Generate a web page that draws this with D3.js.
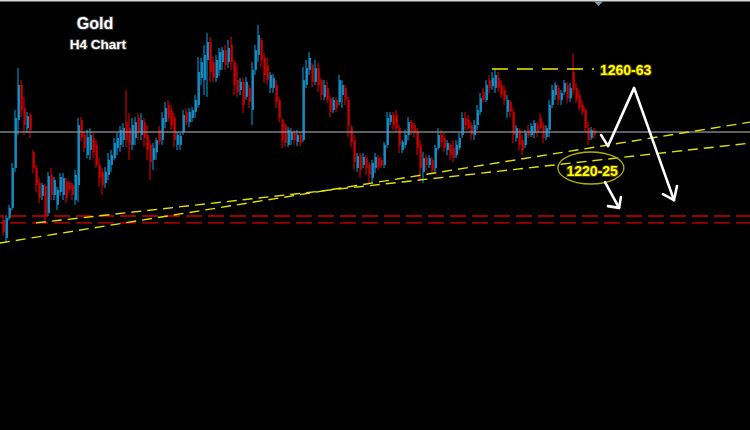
<!DOCTYPE html>
<html>
<head>
<meta charset="utf-8">
<script src="https://cdn.jsdelivr.net/npm/d3@7"></script>
<style>
html,body{margin:0;padding:0;background:#000;}
svg{display:block;}
</style>
</head>
<body>
<svg id="chart" width="750" height="430"></svg>
<script>
// ---- Data (H4 gold candles) ----
const opens = [1209.7,1203.7,1210.3,1213.7,1227,1243,1254.7,1247,1240.3,1244.7,1232.3,1227,1222,1217.7,1221,1212,1224.7,1218,1214.7,1219,1218,1222.3,1222,1221.3,1216.3,1221.3,1243,1238,1231.3,1233,1237,1234.7,1228,1225.7,1222,1224.7,1228,1230.3,1233.7,1234.7,1236.3,1242.3,1240.3,1234.7,1237,1243.7,1238,1242.3,1238,1234.7,1229.7,1232.3,1239.7,1236.3,1242.3,1248,1246.3,1243.7,1234.7,1234.7,1239,1245.7,1242.3,1243.7,1245.7,1248,1257,1256.3,1263,1269,1262.3,1257,1259.7,1262.3,1266.3,1262.3,1268,1262.3,1256.3,1253,1255.7,1250.7,1253.7,1246.3,1259.7,1264.7,1269.7,1263.7,1261.3,1253.7,1253.7,1254.7,1249.7,1243,1241.3,1234.7,1236.3,1238.7,1235.7,1238,1236.3,1254.7,1259.7,1261.3,1255.7,1260.3,1256.3,1250.7,1253.7,1250.3,1246.3,1249.7,1249,1251.3,1253.7,1249.7,1240.7,1236.3,1227,1231.3,1228,1230.3,1228,1223.7,1227,1230.3,1229.7,1228,1234.7,1242.3,1244.7,1244.7,1240.3,1233,1234.7,1238,1242.3,1241.3,1239,1234.7,1225.7,1230.3,1228,1229.7,1227,1233.7,1238,1237,1233,1234.7,1233.7,1231.3,1233.7,1238,1243.7,1243,1241.3,1238,1241.3,1245.7,1252.3,1249.7,1256.3,1254.3,1253.7,1257,1254.7,1253,1245.7,1249,1245.7,1237,1239.7,1236.3,1234.7,1239.7,1238,1238.7,1241.3,1243.7,1241.3,1237.3,1239.7,1248,1251.3,1253.7,1249.7,1252.3,1254.7,1250.3,1259,1253.7,1251.3,1248,1246.3,1240.3,1237,1239.7];
const highs = [1210.7,1211.3,1214.7,1228.7,1246.3,1260.3,1256.3,1250.7,1245.7,1245.3,1233,1228,1223.7,1222,1221.7,1225.7,1227,1224,1220.7,1225.3,1225.3,1223.7,1222.7,1222,1226.3,1243.7,1244,1239,1239.7,1240.3,1238.7,1236.3,1230.3,1227,1227.3,1232,1233,1237,1238.7,1241,1242,1253,1245.3,1243.7,1244,1245.3,1245.3,1243.7,1241.3,1236.3,1235.3,1237,1241,1245.7,1249,1249.7,1248,1245.3,1239,1238.7,1246.3,1247,1247,1247.3,1251.3,1264,1263.7,1268,1272,1270.7,1264,1264.7,1267,1267.3,1268,1269.7,1270.7,1263,1261.3,1257,1257,1257.3,1254.7,1262.3,1268,1274.7,1270.3,1265.3,1263.7,1259,1258.3,1256.3,1250.7,1243.7,1242,1240.7,1240.3,1239.7,1239.7,1239,1260.7,1263,1265.7,1262,1263,1262,1257,1256.3,1255.7,1251.3,1250.7,1250.7,1258,1256.3,1254.7,1250.7,1241.3,1238,1232,1232,1232,1231.3,1229,1229.7,1232,1231.3,1230.7,1235.7,1245.7,1245.7,1245.7,1246.3,1241.3,1236.3,1239.7,1244,1243,1242,1240.3,1236.3,1232.3,1231.3,1231.3,1230.7,1234.7,1240.3,1239.7,1238.7,1236.3,1235.3,1236.3,1236.3,1238.7,1245.7,1245.7,1244.7,1242.3,1243,1248,1252,1253.7,1256.3,1258,1259,1259.7,1259,1256.3,1254.7,1251.3,1249.7,1247,1241.3,1240.3,1238,1239.7,1241.3,1242,1243,1242.3,1245.3,1242.3,1241.3,1249.7,1254.7,1255.7,1254.7,1253,1256.3,1255.7,1255.3,1265.3,1255.3,1253,1249.7,1247.3,1242.3,1240.7,1240.3];
const lows = [1204.3,1202,1209.7,1213,1225.7,1238,1244,1238,1238.7,1237,1225.3,1219,1215.3,1216.3,1208.3,1211,1216.3,1216.3,1213,1217.7,1216.3,1215.3,1218.7,1216.3,1214.7,1215.7,1235.7,1232.3,1230.3,1229.7,1230.3,1227,1220.7,1218,1220.3,1223,1225.7,1229.7,1231.3,1232.3,1234,1234,1229.7,1233,1234.7,1236.3,1236.3,1234,1229.7,1223,1226.3,1229.7,1234.7,1234.7,1240.3,1242.3,1239.7,1234,1233,1233,1238,1241.3,1240.7,1242.3,1243.7,1247,1254.7,1251.3,1250.7,1255.7,1255.7,1255.7,1257.7,1259.7,1259.7,1260.3,1259.7,1251.3,1250.7,1251.3,1245.3,1249.7,1247,1241.3,1258,1262.3,1260.7,1255.3,1254.7,1252,1252,1247,1242.3,1233.7,1234,1234,1234.7,1234.7,1234.3,1234.3,1235.7,1253.7,1258,1254,1254.7,1252.3,1249.7,1249.7,1248.7,1244,1245.3,1245.7,1248,1247,1248,1237.3,1234,1226.3,1225.7,1223.7,1227,1224.7,1222,1222,1225.3,1226.3,1227,1227,1233.7,1241.3,1239.7,1239,1232,1232,1233.7,1236.3,1238,1237.3,1231.3,1223,1222,1226.3,1227,1225.3,1225.7,1233,1234,1232.3,1231.3,1229.7,1229,1230.3,1233,1237,1239.7,1239.7,1236.3,1236.3,1239.7,1244.7,1248.7,1249,1252,1253,1252,1252.3,1250.3,1248,1243.7,1244,1235.3,1235.7,1233,1231.3,1233.7,1237,1237.3,1237,1237.3,1239.7,1235.3,1236.3,1237.3,1247,1249.7,1248,1248,1251.3,1248.7,1249,1251.3,1248.7,1246.3,1244.7,1239,1234.7,1236.3,1237];
const closes = [1205.7,1210.3,1213.7,1227,1243.7,1254.7,1246.3,1241.3,1244.3,1239.7,1227,1221.3,1217,1221.3,1211,1224.3,1218,1223,1219.7,1224,1223.7,1217,1219.7,1218,1224.7,1241.3,1237,1233.7,1237.3,1238,1232.3,1228,1223.7,1221.3,1225.7,1229.7,1231.3,1235.3,1237,1239.7,1240.3,1236.3,1234.7,1241.3,1242.3,1239,1243,1237,1233,1229,1233.7,1236.3,1235.7,1243.7,1247,1243.7,1241.3,1236.3,1238,1237.7,1244.7,1242.3,1245.7,1246.3,1249.7,1259,1262.3,1264.7,1269,1259,1257,1263,1265.7,1266.3,1261.3,1267,1262.3,1254.7,1252.3,1255.7,1248,1255.7,1249,1259.7,1266.3,1271.3,1263,1258,1256.3,1258,1257,1249,1243.7,1236.3,1235.3,1239.7,1239,1236.3,1238,1235.3,1256.3,1260.3,1263.7,1255.7,1260.3,1254.7,1251.3,1254.7,1249.7,1245.7,1249.7,1247,1256.3,1254.7,1249.7,1241.3,1235.7,1229,1231,1226.3,1230.7,1227,1224.7,1228.7,1230.7,1227.3,1227.7,1234.7,1243.7,1244.7,1241.3,1240.3,1234.7,1235.7,1238,1242.3,1239.7,1238.7,1233.7,1227,1230.3,1228,1230.3,1226.3,1233.7,1238,1235.7,1233.7,1235.3,1231.3,1230.3,1234.7,1237,1243.7,1241.3,1240.3,1238,1241.3,1246.3,1250.3,1249.7,1254.7,1253.7,1257,1258,1253.7,1251.3,1249.7,1249.7,1245.7,1238,1240.3,1234.7,1233,1238.7,1237.7,1241,1242,1238.7,1240.3,1237,1240.3,1248,1253,1254.7,1249.7,1252,1255.3,1250.3,1253.7,1253,1249.7,1247.3,1245.7,1240.3,1236.3,1239.7,1238];

// horizontal levels and trend lines: [index, price]
const currentPrice = 1239;
const supportLevels = [1211, 1208.7];
const trendLineA = [[-1.2, 1202.0], [248.9, 1242.3]];
const trendLineB = [[10.8, 1208.7], [248.9, 1235.3]];
const resistanceLine = [[162.8, 1260], [196.8, 1260]];
// annotations
const titleText = "Gold";
const subtitleText = "H4 Chart";
const resistanceLabel = {text: "1260-63", i: 198.8, p: 1258};
const supportLabel = {text: "1220-25", i: 196.2, p: 1224.3, ci: 195.8, cp: 1227};
const arrowPath1 = [[199.2, 1238], [201.5, 1234.3], [210.2, 1253.7], [223.5, 1216.3]];
const arrowHead1 = [[219.8, 1218.3], [223.5, 1216.3], [224.5, 1221]];
const arrowPath2 = [[200.5, 1222.3], [205.2, 1213.7]];
const arrowHead2 = [[201.5, 1214.3], [205.2, 1213.7], [205.8, 1217.3]];

// ---- Drawing ----
const W = 750, H = 430;
const svg = d3.select("#chart");
svg.append("rect").attr("width", W).attr("height", H).attr("fill", "#000");

const n = opens.length;
const x = d3.scaleLinear().domain([0, n - 1]).range([3.5, 3.5 + 3 * (n - 1)]);
const y = d3.scaleLinear().domain([1283 - H / 3, 1283]).range([H, 0]);

const candles = d3.range(n).map(i => ({i, o: opens[i], h: highs[i], l: lows[i], c: closes[i]}));
const g = svg.append("g");
const bull = d => d.c >= d.o;

g.selectAll("rect.body").data(candles).join("rect")
  .attr("class", "body")
  .attr("x", d => x(d.i) - 0.5)
  .attr("width", 2)
  .attr("y", d => y(Math.max(d.o, d.c)))
  .attr("height", d => Math.max(1, Math.abs(y(d.o) - y(d.c))))
  .attr("fill", d => bull(d) ? "#1f7fae" : "#a00000");

g.selectAll("line.wick").data(candles).join("line")
  .attr("class", "wick")
  .attr("x1", d => x(d.i) - 0.5).attr("x2", d => x(d.i) - 0.5)
  .attr("y1", d => y(d.h)).attr("y2", d => y(d.l))
  .attr("stroke", d => bull(d) ? "#00a6e8" : "#f00000")
  .attr("stroke-width", 1);

// current price line
svg.append("line")
  .attr("x1", 0).attr("x2", W)
  .attr("y1", y(currentPrice)).attr("y2", y(currentPrice))
  .attr("stroke", "#8a8f96").attr("stroke-width", 1.5).attr("opacity", 0.9);

// red dashed support levels
svg.selectAll("line.sup").data(supportLevels).join("line")
  .attr("class", "sup")
  .attr("x1", 0).attr("x2", W)
  .attr("y1", d => y(d)).attr("y2", d => y(d))
  .attr("stroke", "#d40000").attr("stroke-width", 1.4)
  .attr("stroke-dasharray", "16,6").attr("stroke-dashoffset", 12);

const line = d3.line().x(d => x(d[0])).y(d => y(d[1]));

// yellow dashed trend lines
[trendLineA, trendLineB].forEach(tl => {
  svg.append("path").attr("d", line(tl))
    .attr("fill", "none").attr("stroke", "#e2e200").attr("stroke-width", 1.4)
    .attr("stroke-dasharray", "10,6");
});

// resistance line
svg.append("path").attr("d", line(resistanceLine))
  .attr("fill", "none").attr("stroke", "#f0f000").attr("stroke-width", 1.3)
  .attr("stroke-dasharray", "16,9");

// ellipse around support label
svg.append("ellipse")
  .attr("cx", x(supportLabel.ci)).attr("cy", y(supportLabel.cp))
  .attr("rx", 33).attr("ry", 16)
  .attr("fill", "none").attr("stroke", "#b0b000").attr("stroke-width", 1.3);

// labels
function yellowLabel(lbl, anchor, xx) {
  svg.append("text")
    .attr("x", xx).attr("y", y(lbl.p))
    .attr("text-anchor", anchor)
    .attr("font-family", "Liberation Sans, Arial, sans-serif")
    .attr("font-weight", "bold").attr("font-size", 14)
    .attr("fill", "#ffff00")
    .attr("stroke", "#4a3a00").attr("stroke-width", 2.2)
    .attr("paint-order", "stroke")
    .text(lbl.text);
}
yellowLabel(resistanceLabel, "start", x(resistanceLabel.i));
yellowLabel(supportLabel, "middle", x(supportLabel.i));

// white arrows
[arrowPath1, arrowHead1, arrowPath2, arrowHead2].forEach(p => {
  svg.append("path").attr("d", line(p))
    .attr("fill", "none").attr("stroke", "#ffffff").attr("stroke-width", 2.6)
    .attr("stroke-linejoin", "round").attr("stroke-linecap", "round");
});

// titles
svg.append("text").attr("x", 95).attr("y", 29)
  .attr("text-anchor", "middle")
  .attr("font-family", "Liberation Sans, Arial, sans-serif")
  .attr("font-weight", "bold").attr("font-size", 16)
  .attr("fill", "#ffffff").attr("stroke", "#3a3a3a").attr("stroke-width", 2)
  .attr("paint-order", "stroke")
  .text(titleText);
svg.append("text").attr("x", 98).attr("y", 49)
  .attr("text-anchor", "middle")
  .attr("font-family", "Liberation Sans, Arial, sans-serif")
  .attr("font-weight", "bold").attr("font-size", 13.5)
  .attr("fill", "#ffffff").attr("stroke", "#3a3a3a").attr("stroke-width", 2)
  .attr("paint-order", "stroke")
  .text(subtitleText);

// top border and shift marker
svg.append("rect").attr("x", 0).attr("y", 0).attr("width", W).attr("height", 1.5).attr("fill", "#d8d8d8");
svg.append("path").attr("d", "M594,1.5 L603,1.5 L598.5,6 Z").attr("fill", "#8595a8");
</script>
</body>
</html>
